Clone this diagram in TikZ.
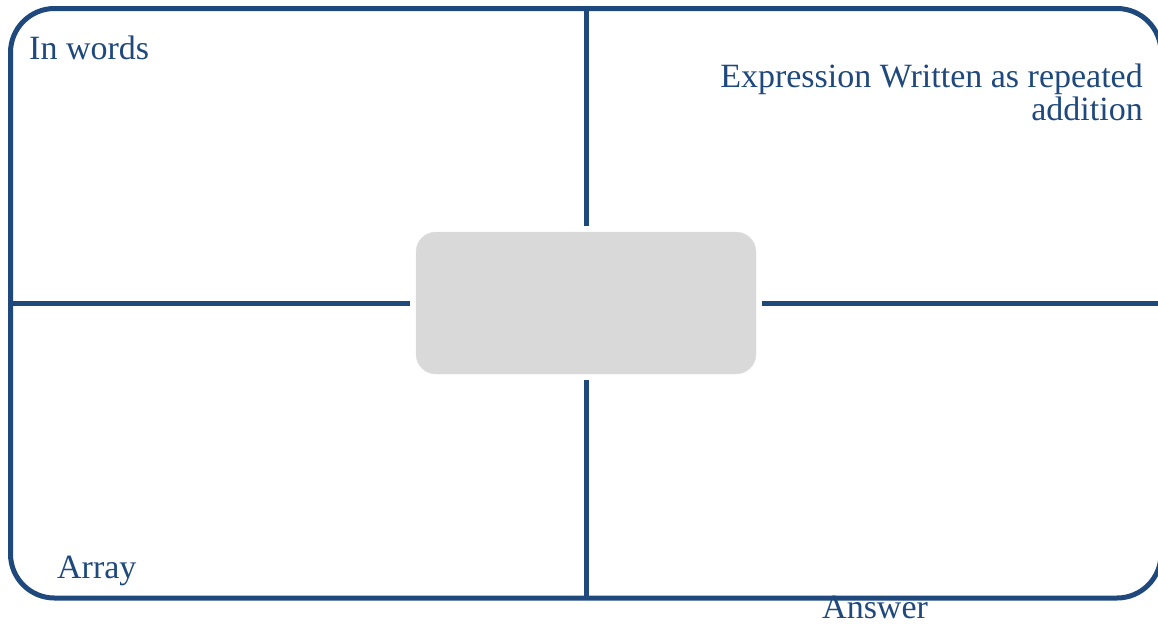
\documentclass[tikz,border=0pt]{standalone}
\usepackage{fontspec}
\setmainfont{Liberation Serif}
\usetikzlibrary{positioning}
\definecolor{frameblue}{RGB}{31,73,125}
\definecolor{hubgray}{RGB}{217,217,217}

\begin{document}
\begin{tikzpicture}[
    x=1pt, y=-1pt,
    every node/.style={inner sep=0pt, text=frameblue, font=\fontsize{34}{33}\selectfont},
    frame/.style={draw=frameblue, line width=5pt, rounded corners=44pt},
    divider/.style={draw=frameblue, line width=5pt},
    hub/.style={fill=hubgray, draw=hubgray!85, rounded corners=20pt, minimum width=340pt, minimum height=142pt}
]
    \useasboundingbox (0,0) rectangle (1158,625);

    % Outer frame
    \draw[frame] (10.5,8.5) rectangle (1161,598);

    % Nodes
    \node[hub] (hub) at (586,303) {};
    \coordinate (top) at (586,8.5);
    \coordinate (bottom) at (586,598);
    \coordinate (left) at (10.5,303);
    \coordinate (right) at (1161,303);

    % Dividers, stopping short of the hub
    \draw[divider] (top) -- ([yshift=6pt]hub.north);
    \draw[divider] ([yshift=-6pt]hub.south) -- (bottom);
    \draw[divider] (left) -- ([xshift=-6pt]hub.west);
    \draw[divider] ([xshift=6pt]hub.east) -- (right);

    % Labels
    \node[anchor=base west] (words) at (29,59) {In words};
    \node[anchor=base east, align=right] (expr) at (1143,120) {Expression Written as repeated\\addition};
    \node[anchor=base west] (array) at (57,578) {Array};
    \node[anchor=base west] (answer) at (822,618) {Answer};

\end{tikzpicture}
\end{document}
